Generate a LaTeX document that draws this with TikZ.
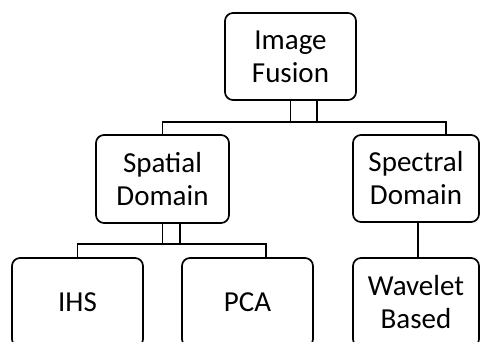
\documentclass[tikz,border=0pt]{standalone}
\usepackage{fontspec}
\setmainfont{Carlito}
\begin{document}
\begin{tikzpicture}[x=1pt,y=-1pt,
  box/.style={draw=black,line width=1.7pt,rounded corners=8pt,fill=white,
    inner sep=0pt,align=center,font=\fontsize{29}{33}\selectfont},
  conn/.style={draw=black,line width=1.6pt}]
\useasboundingbox (0,0) rectangle (480,342);
\clip (0,0) rectangle (480,342);
\node[box,minimum width=131pt,minimum height=87pt] (root) at (290.5,56.5) {Image\\Fusion};
\node[box,minimum width=133pt,minimum height=88pt] (spatial) at (162.5,179) {Spatial\\Domain};
\node[box,minimum width=126pt,minimum height=87pt] (spectral) at (416,178.5) {Spectral\\Domain};
\node[box,minimum width=131pt,minimum height=89pt] (ihs) at (77.5,302.5) {IHS};
\node[box,minimum width=131pt,minimum height=89pt] (pca) at (247.5,302.5) {PCA};
\node[box,minimum width=126pt,minimum height=89pt] (wavelet) at (416,302.5) {Wavelet\\Based};
\coordinate (busA) at (0,122);
\coordinate (busB) at (0,244);
\coordinate (r2) at ([xshift=26.5pt]root.south);
\coordinate (sp1) at ([xshift=30pt]spectral.north);
\coordinate (sa2) at ([xshift=17.5pt]spatial.south);
\coordinate (pc1) at ([xshift=18.5pt]pca.north);
\coordinate (sps) at ([xshift=2pt]spectral.south);
\coordinate (wvn) at ([xshift=2pt]wavelet.north);
\draw[conn] (root.south) -- (root.south |- busA);
\draw[conn] (r2) -- (r2 |- busA);
\draw[conn] (spatial.north) -- (spatial.north |- busA) -- (sp1 |- busA) -- (sp1);
\draw[conn] (spatial.south) -- (spatial.south |- busB);
\draw[conn] (sa2) -- (sa2 |- busB);
\draw[conn] (ihs.north) -- (ihs.north |- busB) -- (pc1 |- busB) -- (pc1);
\draw[conn] (sps) -- (wvn);
\end{tikzpicture}
\end{document}
